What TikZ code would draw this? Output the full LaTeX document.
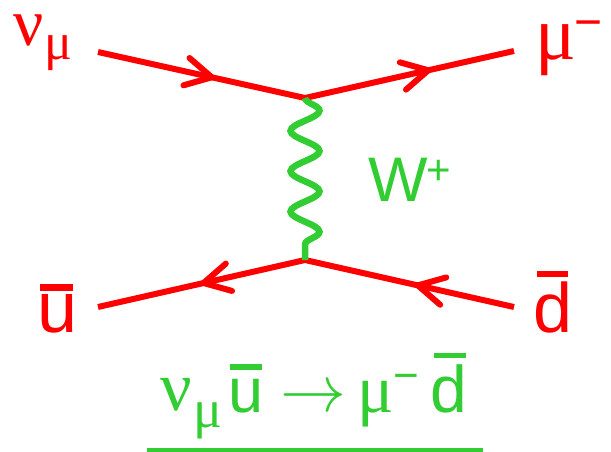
\documentclass[tikz,border=0pt]{standalone}
\usepackage{graphicx}
\usepackage{fontspec}
\setmainfont{Liberation Sans}
\newfontfamily\gk{Liberation Serif}
\usetikzlibrary{decorations.pathmorphing,decorations.markings}
\definecolor{fred}{RGB}{255,0,0}
\definecolor{bgreen}{RGB}{50,205,50}
\newcommand\fs[1]{\fontsize{#1}{#1}\selectfont}
\begin{document}
\begin{tikzpicture}[x=1pt,y=-1pt,
 lbl/.style={inner sep=0pt, outer sep=0pt, anchor=center},
 fline/.style={draw=fred, line width=6pt, line join=miter},
 arrowmark/.style={decorate, decoration={markings, mark=at position #1 with {\draw[fred, line width=6pt, line cap=round, line join=round] (-26,14) -- (0,0) -- (-26,-14);}}},
 boson/.style={draw=bgreen, line width=6.5pt, decorate, decoration={snake, amplitude=14.5pt, segment length=40.4pt}},
 barrule/.style={fill=#1, inner sep=0pt, outer sep=0pt, anchor=center}
]
\useasboundingbox (0,0) rectangle (611,452);
% vertices and line ends
\coordinate (v1) at (305,98);
\coordinate (v2) at (305,260);
\coordinate (a) at (98,52);
\coordinate (b) at (514,51);
\coordinate (c) at (98,307);
\coordinate (d) at (514,307);
% fermion lines
\draw[fline] (a) -- (v1) -- (b);
\draw[fline] (c) -- (v2) -- (d);
\path[arrowmark=0.55] (a) -- (v1);
\path[arrowmark=0.59] (v1) -- (b);
\path[arrowmark=0.49] (v2) -- (c);
\path[arrowmark=0.46] (d) -- (v2);
% boson
\draw[boson] (v1) -- (v2);
% labels
\node[lbl, text=fred] (nu1) at (29,30) {\gk\fs{67}ν};
\node[lbl, text=fred] (mu1) at (58.5,53) {\gk\fs{52}μ};
\node[lbl, text=fred] (mu2) at (556,50) {\gk\fs{76}μ};
\node[lbl, text=fred] (mi2) at (588.5,30) {\fs{48}−};
\node[lbl, text=bgreen] (W) at (398.5,180) {\fs{63}W};
\node[lbl, text=bgreen] (plus) at (439,172.5) {\fs{42}+};
\node[lbl, text=fred] (u1) at (58,314) {\fs{72}u};
\node[barrule=fred, minimum width=33pt, minimum height=7pt] (ubar1) at (56.5,287.5) {};
\node[lbl, text=fred] (d1) at (553,307.5) {\fs{70}d};
\node[barrule=fred, minimum width=31pt, minimum height=6pt] (dbar1) at (552.5,274) {};
% equation
\node[lbl, text=bgreen] (nu3) at (176,394.5) {\gk\fs{70}ν};
\node[lbl, text=bgreen] (mu3) at (207.5,421) {\gk\fs{54}μ};
\node[lbl, text=bgreen] (u3) at (246,396.5) {\fs{63}u};
\node[barrule=bgreen, minimum width=32pt, minimum height=6pt] (ubar3) at (246,367) {};
\node[inner sep=0pt, outer sep=0pt, anchor=base, text=bgreen] (arr) at (313,411) {\scalebox{6.6}{$\rightarrow$}};
\node[lbl, text=bgreen] (mu4) at (376,404) {\gk\fs{68}μ};
\node[lbl, text=bgreen] (mi4) at (406,382) {\fs{44}−};
\node[lbl, text=bgreen] (d4) at (448.5,389) {\fs{66}d};
\node[barrule=bgreen, minimum width=32pt, minimum height=5pt] (dbar4) at (450,355.5) {};
\coordinate (ul) at (147,450);
\coordinate (ur) at (483,450);
\draw[bgreen, line width=4pt] (ul) -- (ur);
\end{tikzpicture}
\end{document}
